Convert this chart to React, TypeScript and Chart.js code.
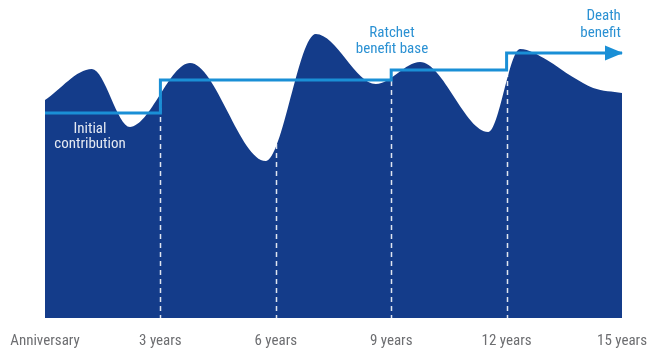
import React, { useEffect, useRef } from "react";
import { Chart, registerables } from "chart.js";

Chart.register(...registerables);

// Account value path (years since purchase, value)
const accountYears = [0, 1.22, 2.21, 3.77, 5.74, 7.04, 8.6, 9.75, 11.52, 12.35, 13.05, 13.72, 14.25, 15];
const accountValues = [82.3, 94.0, 72.1, 96.2, 59.2, 107.2, 88.3, 96.6, 70.2, 101.5, 97.4, 90.9, 86.8, 84.9];

// Ratchet benefit base: resets at anniversaries
const ratchetYears = [0, 3, 9, 12];
const ratchetValues = [77.4, 89.8, 93.6, 100];
const endYear = 15;

// Anniversary checkpoints (dashed lines) and axis labels
const checkpointYears = [3, 6, 9, 12];
const tickValues = [0, 3, 6, 9, 12, 15];
const tickLabels = ["Anniversary", "3 years", "6 years", "9 years", "12 years", "15 years"];

const FONT = "'Liberation Sans Narrow', 'Roboto Condensed', 'DejaVu Sans Condensed', Roboto, sans-serif";
const FILL = "#143c8a";
const LINE = "#1a8fd6";
const TEXT_BLUE = "#2b91d3";

export default function App() {
  const ref = useRef<HTMLCanvasElement | null>(null);

  useEffect(() => {
    document.body.style.margin = "0";
    const canvas = ref.current;
    if (!canvas) return;

    const accountData = accountYears.map((x, i) => ({ x, y: accountValues[i] }));
    const stepData: { x: number; y: number }[] = [];
    ratchetYears.forEach((x, i) => {
      if (i > 0) stepData.push({ x, y: ratchetValues[i - 1] });
      stepData.push({ x, y: ratchetValues[i] });
    });
    stepData.push({ x: endYear, y: ratchetValues[ratchetValues.length - 1] });

    const dashPlugin = {
      id: "dashes",
      afterDatasetDraw(chart: any, args: any) {
        if (args.index !== 1) return;
        const { ctx, chartArea, scales } = chart;
        ctx.save();
        ctx.globalCompositeOperation = "source-atop";
        ctx.strokeStyle = "rgba(235,238,245,0.95)";
        ctx.lineWidth = 1.5;
        ctx.setLineDash([5, 4]);
        checkpointYears.forEach((yr) => {
          const x = Math.round(scales.x.getPixelForValue(yr)) + 0.5;
          ctx.beginPath();
          ctx.moveTo(x, chartArea.top);
          ctx.lineTo(x, chartArea.bottom);
          ctx.stroke();
        });
        ctx.restore();
      },
      afterDatasetsDraw(chart: any) {
        const { ctx, scales } = chart;
        const xs = scales.x;
        const ys = scales.y;
        // arrow head
        const tipX = xs.getPixelForValue(endYear) + 1;
        const ay = ys.getPixelForValue(ratchetValues[ratchetValues.length - 1]);
        ctx.save();
        ctx.fillStyle = LINE;
        ctx.beginPath();
        ctx.moveTo(tipX, ay);
        ctx.lineTo(tipX - 18, ay - 7.5);
        ctx.lineTo(tipX - 18, ay + 7.5);
        ctx.closePath();
        ctx.fill();

        ctx.font = `15px ${FONT}`;
        ctx.textBaseline = "middle";
        const put = (txt: string, xv: number, yv: number, align: CanvasTextAlign, color: string) => {
          ctx.textAlign = align;
          ctx.fillStyle = color;
          ctx.fillText(txt, xs.getPixelForValue(xv), ys.getPixelForValue(yv));
        };
        put("Initial", 1.17, 71.4, "center", "#e4e9f2");
        put("contribution", 1.17, 65.7, "center", "#e4e9f2");
        put("Ratchet", 9.02, 107.6, "center", TEXT_BLUE);
        put("benefit base", 9.02, 101.6, "center", TEXT_BLUE);
        put("Death", 14.97, 113.7, "right", TEXT_BLUE);
        put("benefit", 14.97, 107.6, "right", TEXT_BLUE);
        ctx.restore();
      },
    };

    const chart = new Chart(canvas, {
      type: "line",
      data: {
        datasets: [
          {
            label: "Ratchet benefit base",
            data: stepData,
            borderColor: LINE,
            borderWidth: 3,
            pointRadius: 0,
            tension: 0,
            fill: false,
            borderCapStyle: "butt",
          },
          {
            label: "Account value",
            data: accountData,
            borderColor: FILL,
            borderWidth: 0,
            backgroundColor: FILL,
            pointRadius: 0,
            fill: "origin",
            cubicInterpolationMode: "monotone",
          },
        ],
      },
      plugins: [dashPlugin],
      options: {
        responsive: false,
        animation: false,
        layout: { padding: { left: 45, right: 26, top: 0, bottom: 0 } },
        plugins: { legend: { display: false }, tooltip: { enabled: false } },
        scales: {
          x: {
            type: "linear",
            min: 0,
            max: 15,
            grid: { display: false, drawTicks: false },
            border: { display: false },
            afterBuildTicks: (scale: any) => {
              scale.ticks = tickValues.map((v) => ({ value: v }));
            },
            afterFit: (scale: any) => {
              scale.height = 31;
              scale.paddingLeft = 0;
              scale.paddingRight = 0;
            },
            ticks: {
              autoSkip: false,
              maxRotation: 0,
              padding: 14,
              color: "#6d6e71",
              font: { family: FONT, size: 15 },
              callback: (v: any) => {
                const i = tickValues.indexOf(Number(v));
                return i >= 0 ? tickLabels[i] : "";
              },
            },
          },
          y: { display: false, min: 0, max: 120 },
        },
      },
    } as any);

    return () => chart.destroy();
  }, []);

  return <canvas ref={ref} width={648} height={349} style={{ display: "block" }} />;
}
